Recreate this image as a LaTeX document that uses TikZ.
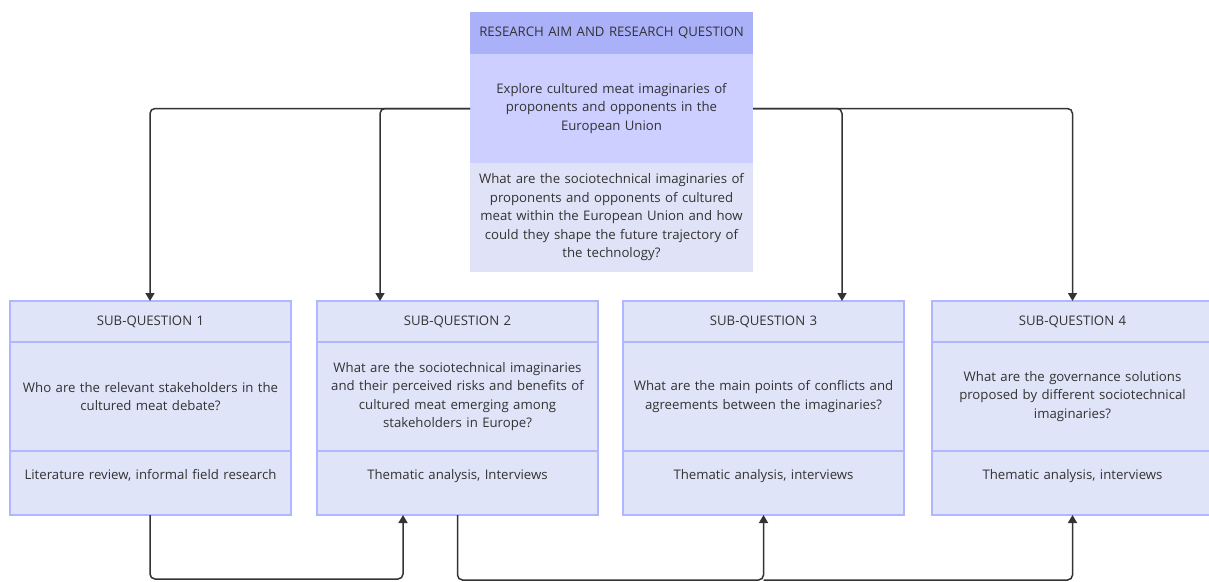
\documentclass[tikz,border=0pt]{standalone}
\usepackage{fontspec}
\setmainfont{Open Sans}
\usetikzlibrary{positioning,arrows.meta}
\definecolor{aimhead}{RGB}{170,177,248}
\definecolor{aimmid}{RGB}{204,207,255}
\definecolor{aimlow}{RGB}{224,227,248}
\definecolor{qfill}{RGB}{224,228,248}
\definecolor{qline}{RGB}{176,182,255}
\definecolor{ink}{RGB}{51,51,51}
\tikzset{
  band/.style={anchor=north, align=center, inner sep=0pt, outer sep=0pt, text=ink,
               font=\fontsize{13.2}{18.5}\selectfont},
  aimband/.style={band, minimum width=283pt, text width=280pt},
  sqband/.style={band, minimum width=281pt, text width=278pt, fill=qfill, draw=qline, line width=1.6pt},
  sqhead/.style={sqband, minimum height=41pt},
  sqbody/.style={sqband, minimum height=109pt, below=0pt of #1},
  sqmeth/.style={sqband, minimum height=64pt, text depth=17pt, below=0pt of #1},
  link/.style={draw=ink, line width=1.5pt, rounded corners=5pt,
               -{Triangle[width=9pt,length=8pt]}}
}
\begin{document}
\begin{tikzpicture}[x=1pt,y=-1pt]
\useasboundingbox (0,0) rectangle (1209,581);
\clip (0,0) rectangle (1209,581);
% research aim and question
\node[aimband, fill=aimhead, minimum height=42pt] (aimhead) at (611.5,12) {RESEARCH AIM AND RESEARCH QUESTION};
\node[aimband, fill=aimmid, minimum height=109pt, below=0pt of aimhead] (aimbody)
  {Explore cultured meat imaginaries of\\proponents and opponents in the\\European Union};
\node[aimband, fill=aimlow, minimum height=109pt, below=0pt of aimbody] (aimq)
  {What are the sociotechnical imaginaries of\\proponents and opponents of cultured\\meat within the European Union and how\\could they shape the future trajectory of\\the technology?};
% sub-questions
\node[sqhead] (sq1head) at (150.5,301) {SUB-QUESTION 1};
\node[sqbody=sq1head] (sq1body) {Who are the relevant stakeholders in the\\cultured meat debate?};
\node[sqmeth=sq1body] (sq1meth) {Literature review, informal field research};
\node[sqhead] (sq2head) at (457.5,301) {SUB-QUESTION 2};
\node[sqbody=sq2head] (sq2body) {What are the sociotechnical imaginaries\\and their perceived risks and benefits of\\cultured meat emerging among\\stakeholders in Europe?};
\node[sqmeth=sq2body] (sq2meth) {Thematic analysis, Interviews};
\node[sqhead] (sq3head) at (763.5,301) {SUB-QUESTION 3};
\node[sqbody=sq3head] (sq3body) {What are the main points of conflicts and\\agreements between the imaginaries?};
\node[sqmeth=sq3body] (sq3meth) {Thematic analysis, interviews};
\node[sqhead] (sq4head) at (1072.5,301) {SUB-QUESTION 4};
\node[sqbody=sq4head] (sq4body) {What are the governance solutions\\proposed by different sociotechnical\\imaginaries?};
\node[sqmeth=sq4body] (sq4meth) {Thematic analysis, interviews};
% links from the aim
\draw[link] (aimbody.west) -| ([xshift=-0.5pt]sq1head.north);
\draw[link] (aimbody.west) -| ([xshift=-77.5pt]sq2head.north);
\draw[link] (aimbody.east) -| ([xshift=78.5pt]sq3head.north);
\draw[link] (aimbody.east) -| (sq4head.north);
% links along the bottom
\coordinate (low1) at (0,579);
\coordinate (low2) at (0,580);
\coordinate (sq2in) at ([xshift=-54.5pt]sq2meth.south);
\draw[link] ([xshift=-0.5pt]sq1meth.south) |- (low1 -| sq2in) -- (sq2in);
\draw[link] (sq2meth.south) |- (low2 -| sq3meth.south) -- (sq3meth.south);
\draw[link] (low2 -| sq3meth.south) -| (sq4meth.south);
\end{tikzpicture}
\end{document}
